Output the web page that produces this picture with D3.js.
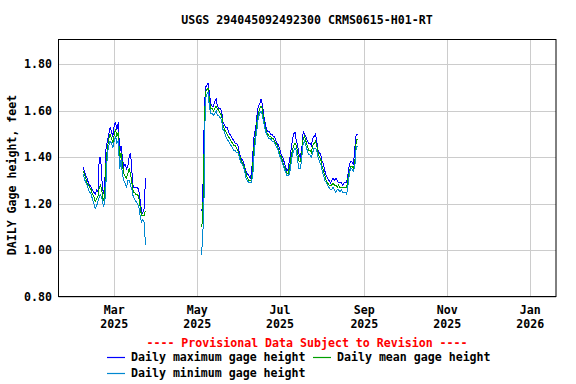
<!DOCTYPE html>
<html>
<head>
<meta charset="utf-8">
<script src="https://cdn.jsdelivr.net/npm/d3@7"></script>
<style>
  body { margin: 0; background: #fff; }
  text { font-family: "DejaVu Sans Mono", monospace; font-weight: bold; font-size: 11.6px; }
</style>
</head>
<body>
<div id="chart"></div>
<script>
// first stretch of record (daily, starting Feb 6 2025)
const seg1Start = "2025-02-06";
const seg1Max = [1.36,1.34,1.32,1.31,1.29,1.28,1.27,1.26,1.25,1.24,
  1.26,1.25,1.40,1.40,1.30,1.24,1.28,1.44,1.47,1.50,
  1.53,1.51,1.49,1.54,1.55,1.52,1.55,1.42,1.45,1.40,
  1.36,1.37,1.35,1.36,1.40,1.42,1.34,1.27,1.27,1.27,
  1.27,1.26,1.22,1.17,1.16,1.18,1.31];
const seg1Mean = [1.34,1.33,1.31,1.29,1.28,1.27,1.26,1.24,1.23,1.21,
  1.22,1.23,1.27,1.28,1.25,1.21,1.24,1.38,1.44,1.48,
  1.50,1.48,1.46,1.50,1.52,1.49,1.51,1.39,1.42,1.37,
  1.33,1.32,1.31,1.33,1.35,1.33,1.29,1.25,1.25,1.24,
  1.24,1.23,1.19,1.15,1.15,1.15,1.17];
const seg1Min = [1.33,1.31,1.29,1.28,1.26,1.25,1.24,1.22,1.20,1.18,
  1.19,1.21,1.23,1.24,1.22,1.19,1.20,1.30,1.42,1.45,
  1.47,1.46,1.44,1.47,1.49,1.46,1.47,1.35,1.39,1.33,
  1.30,1.29,1.27,1.30,1.30,1.28,1.26,1.23,1.22,1.21,
  1.20,1.19,1.15,1.12,1.13,1.12,1.02];

// second stretch (daily, starting May 4 2025)
const seg2Start = "2025-05-04";
const seg2Max = [1.17,1.18,1.51,1.70,1.71,1.72,1.68,1.63,1.62,1.62,
  1.64,1.65,1.62,1.61,1.61,1.60,1.55,1.54,1.53,1.53,
  1.51,1.50,1.49,1.48,1.47,1.46,1.46,1.45,1.42,1.40,
  1.39,1.38,1.36,1.34,1.33,1.32,1.31,1.33,1.42,1.50,
  1.52,1.58,1.62,1.63,1.65,1.63,1.58,1.55,1.52,1.51,
  1.51,1.50,1.50,1.49,1.49,1.47,1.46,1.45,1.43,1.41,
  1.40,1.38,1.36,1.34,1.35,1.39,1.43,1.47,1.50,1.51,
  1.47,1.45,1.41,1.40,1.44,1.51,1.50,1.49,1.47,1.46,
  1.46,1.45,1.48,1.49,1.50,1.47,1.43,1.42,1.41,1.38,
  1.37,1.34,1.32,1.31,1.30,1.29,1.30,1.31,1.30,1.31,
  1.30,1.29,1.29,1.29,1.28,1.29,1.29,1.29,1.33,1.37,
  1.38,1.38,1.37,1.44,1.50,1.50];
const seg2Mean = [1.10,1.12,1.40,1.68,1.69,1.70,1.65,1.61,1.61,1.60,
  1.61,1.62,1.61,1.60,1.59,1.58,1.54,1.52,1.51,1.50,
  1.49,1.48,1.47,1.46,1.45,1.45,1.44,1.43,1.41,1.39,
  1.38,1.37,1.35,1.33,1.31,1.30,1.30,1.30,1.37,1.46,
  1.50,1.55,1.59,1.61,1.62,1.61,1.56,1.53,1.51,1.50,
  1.49,1.49,1.48,1.48,1.47,1.46,1.45,1.43,1.41,1.40,
  1.38,1.36,1.35,1.33,1.33,1.36,1.40,1.43,1.45,1.46,
  1.45,1.42,1.38,1.38,1.42,1.48,1.49,1.47,1.45,1.43,
  1.43,1.42,1.45,1.46,1.47,1.45,1.42,1.40,1.39,1.36,
  1.34,1.32,1.30,1.29,1.28,1.28,1.28,1.29,1.28,1.28,
  1.27,1.28,1.27,1.27,1.27,1.27,1.27,1.27,1.31,1.34,
  1.36,1.36,1.35,1.38,1.47,1.48];
const seg2Min = [0.98,1.04,1.20,1.65,1.67,1.68,1.62,1.59,1.59,1.58,
  1.59,1.60,1.58,1.58,1.57,1.56,1.52,1.51,1.49,1.48,
  1.47,1.46,1.45,1.44,1.43,1.43,1.42,1.42,1.40,1.38,
  1.37,1.36,1.34,1.31,1.30,1.29,1.29,1.29,1.33,1.42,
  1.48,1.52,1.57,1.59,1.60,1.58,1.55,1.52,1.50,1.49,
  1.48,1.48,1.47,1.47,1.46,1.45,1.44,1.42,1.40,1.39,
  1.37,1.35,1.34,1.32,1.32,1.33,1.37,1.41,1.43,1.44,
  1.43,1.38,1.35,1.35,1.40,1.46,1.47,1.45,1.43,1.41,
  1.41,1.40,1.42,1.44,1.44,1.43,1.40,1.38,1.37,1.34,
  1.32,1.30,1.29,1.28,1.27,1.26,1.26,1.27,1.26,1.25,
  1.26,1.26,1.25,1.26,1.25,1.25,1.25,1.24,1.28,1.33,
  1.35,1.35,1.34,1.36,1.44,1.45];

const yTicks = [0.8, 1.0, 1.2, 1.4, 1.6, 1.8];
const xTicks = ["2025-03-01", "2025-05-01", "2025-07-01", "2025-09-01", "2025-11-01", "2026-01-01"];

const series = [
  { name: "Daily maximum gage height", color: "#0000ff", seg1: seg1Max, seg2: seg2Max },
  { name: "Daily mean gage height", color: "#00a000", seg1: seg1Mean, seg2: seg2Mean },
  { name: "Daily minimum gage height", color: "#0088d0", seg1: seg1Min, seg2: seg2Min }
];

const width = 576, height = 384;
const plot = { left: 58.5, right: 556, top: 39.5, bottom: 296.5 };
const parse = d3.utcParse("%Y-%m-%d");

const svg = d3.select("#chart").append("svg")
  .attr("width", width)
  .attr("height", height);

const x = d3.scaleUtc()
  .domain([parse("2025-01-19"), parse("2026-01-20")])
  .range([plot.left, plot.right]);

const y = d3.scaleLinear()
  .domain([0.8, 1.9077])
  .range([plot.bottom, plot.top]);

// grid
svg.append("g")
  .selectAll("line")
  .data(yTicks)
  .join("line")
  .attr("x1", plot.left).attr("x2", plot.right)
  .attr("y1", d => Math.round(y(d)) + 0.5).attr("y2", d => Math.round(y(d)) + 0.5)
  .attr("stroke", "#cccccc");

svg.append("g")
  .selectAll("line")
  .data(xTicks.map(parse))
  .join("line")
  .attr("x1", d => Math.round(x(d)) + 0.5).attr("x2", d => Math.round(x(d)) + 0.5)
  .attr("y1", plot.top).attr("y2", plot.bottom)
  .attr("stroke", "#cccccc");

// data
svg.append("clipPath").attr("id", "clip")
  .append("rect")
  .attr("x", plot.left).attr("y", plot.top)
  .attr("width", plot.right - plot.left).attr("height", plot.bottom - plot.top);

const line = d3.line()
  .x(d => x(d.date))
  .y(d => y(d.value));

function rows(start, values) {
  const s = parse(start);
  return values.map((v, i) => ({ date: d3.utcDay.offset(s, i), value: v }));
}

const lines = svg.append("g").attr("clip-path", "url(#clip)");
series.forEach(s => {
  [rows(seg1Start, s.seg1), rows(seg2Start, s.seg2)].forEach(r => {
    lines.append("path")
      .datum(r)
      .attr("fill", "none")
      .attr("stroke", s.color)
      .attr("stroke-width", 1)
      .attr("shape-rendering", "crispEdges")
      .attr("d", line);
  });
});

// frame
svg.append("rect")
  .attr("x", plot.left).attr("y", plot.top)
  .attr("width", plot.right - plot.left).attr("height", plot.bottom - plot.top)
  .attr("fill", "none")
  .attr("stroke", "#000");

// y labels
svg.append("g")
  .selectAll("text")
  .data(yTicks)
  .join("text")
  .attr("x", 52)
  .attr("y", d => y(d) + 4)
  .attr("text-anchor", "end")
  .text(d => d3.format(".2f")(d));

svg.append("text")
  .attr("transform", "translate(16,175) rotate(-90)")
  .attr("text-anchor", "middle")
  .text("DAILY Gage height, feet");

// x labels
const fmtMon = d3.utcFormat("%b"), fmtYear = d3.utcFormat("%Y");
const xl = svg.append("g")
  .selectAll("g")
  .data(xTicks.map(parse))
  .join("g")
  .attr("transform", d => `translate(${x(d)},0)`);
xl.append("text").attr("y", 314).attr("text-anchor", "middle").text(d => fmtMon(d));
xl.append("text").attr("y", 328).attr("text-anchor", "middle").text(d => fmtYear(d));

// title
svg.append("text")
  .attr("x", 307).attr("y", 24)
  .attr("text-anchor", "middle")
  .text("USGS 294045092492300 CRMS0615-H01-RT");

svg.append("text")
  .attr("x", 307).attr("y", 347)
  .attr("text-anchor", "middle")
  .attr("fill", "#ff0000")
  .text("---- Provisional Data Subject to Revision ----");

// legend
const legendPos = [[107, 357], [313, 357], [107, 373]];
series.forEach((s, i) => {
  const [lx, ly] = legendPos[i];
  svg.append("line")
    .attr("x1", lx).attr("x2", lx + 18)
    .attr("y1", ly + 0.5).attr("y2", ly + 0.5)
    .attr("stroke", s.color)
    .attr("stroke-width", 1.2);
  svg.append("text")
    .attr("x", lx + 24).attr("y", ly + 4)
    .text(s.name);
});
</script>
</body>
</html>
